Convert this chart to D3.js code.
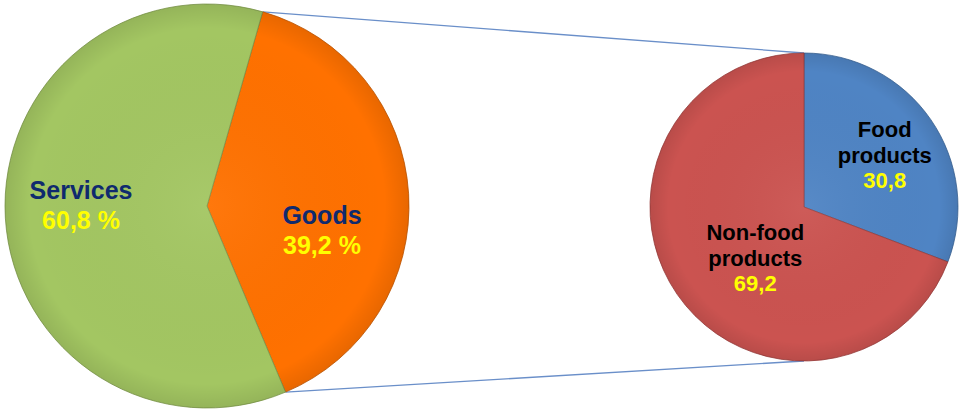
<!DOCTYPE html>
<html>
<head>
<meta charset="utf-8">
<script src="https://cdn.jsdelivr.net/npm/d3@7"></script>
<style>
  html, body { margin: 0; padding: 0; background: #fff; }
  svg { display: block; }
</style>
</head>
<body>
<script>
// Pie of pie: consumer spending split, goods broken down further

const mainNames = ["Goods", "Services"];
const mainValues = [39.2, 60.8];
const mainValueLabels = ["39,2 %", "60,8 %"];

const subNames = ["Food products", "Non-food products"];
const subValues = [30.8, 69.2];
const subValueLabels = ["30,8", "69,2"];

const width = 960;
const height = 410;

const colors = {
  "Goods": "#ff7100",
  "Services": "#a3c662",
  "Food products": "#4f84c4",
  "Non-food products": "#cb5350"
};

// text lines per slice (the sub pie wraps its names)
const nameLines = {
  "Goods": ["Goods"],
  "Services": ["Services"],
  "Food products": ["Food", "products"],
  "Non-food products": ["Non-food", "products"]
};

// small nudges so the labels sit where the original put them
const labelNudge = {
  "Goods": [-6, 32],
  "Services": [-5, -8],
  "Food products": [11, -4],
  "Non-food products": [21, 3]
};

const svg = d3.select("body").append("svg")
  .attr("width", width)
  .attr("height", height)
  .style("font-family", "'Liberation Sans', Arial, sans-serif");

const defs = svg.append("defs");
const rim = defs.append("radialGradient").attr("id", "rim");
rim.append("stop").attr("offset", "0%").attr("stop-color", "#fff").attr("stop-opacity", 0.05);
rim.append("stop").attr("offset", "88%").attr("stop-color", "#000").attr("stop-opacity", 0);
rim.append("stop").attr("offset", "100%").attr("stop-color", "#000").attr("stop-opacity", 0.09);

const main = { cx: 207, cy: 206, r: 202 };
const sub = { cx: 804, cy: 207, r: 154 };

const goodsStart = 16 * Math.PI / 180;

const mainPie = d3.pie().sort(null)
  .startAngle(goodsStart)
  .endAngle(goodsStart + 2 * Math.PI)
  .value(d => d.value);

const subPie = d3.pie().sort(null).value(d => d.value);

const mainArcs = mainPie(mainNames.map((n, i) => ({ name: n, value: mainValues[i], label: mainValueLabels[i] })));
const subArcs = subPie(subNames.map((n, i) => ({ name: n, value: subValues[i], label: subValueLabels[i] })));

// connector lines from the goods slice edges to the sub pie
const pt = (c, a, r) => [c.cx + r * Math.sin(a), c.cy - r * Math.cos(a)];
const goodsArc = mainArcs[0];
const connectors = [
  [pt(main, goodsArc.startAngle, main.r), [sub.cx, sub.cy - sub.r]],
  [pt(main, goodsArc.endAngle, main.r), [sub.cx, sub.cy + sub.r]]
];
svg.append("g").selectAll("line").data(connectors).join("line")
  .attr("x1", d => d[0][0]).attr("y1", d => d[0][1])
  .attr("x2", d => d[1][0]).attr("y2", d => d[1][1])
  .attr("stroke", "#6a8fc9")
  .attr("stroke-width", 1.3);

function drawPie(c, arcs, labelFrac, nameColor, lineGap) {
  const arc = d3.arc().innerRadius(0).outerRadius(c.r);
  const labelArc = d3.arc().innerRadius(c.r * labelFrac).outerRadius(c.r * labelFrac);
  const g = svg.append("g").attr("transform", `translate(${c.cx},${c.cy})`);

  g.selectAll("path.slice").data(arcs).join("path")
    .attr("class", "slice")
    .attr("d", arc)
    .attr("fill", d => colors[d.data.name])
    .attr("stroke", d => d3.color(colors[d.data.name]).darker(0.8))
    .attr("stroke-width", 0.8);

  g.append("circle")
    .attr("r", c.r)
    .attr("fill", "url(#rim)")
    .style("pointer-events", "none");

  arcs.forEach(d => {
    const [x, y] = labelArc.centroid(d);
    const [nx, ny] = labelNudge[d.data.name];
    const lines = nameLines[d.data.name];
    const fs = c.r > 180 ? 25 : 22;
    const total = lines.length + 1;
    const t = g.append("text")
      .attr("text-anchor", "middle")
      .attr("font-weight", "bold")
      .attr("font-size", fs);
    lines.concat([d.data.label]).forEach((line, i) => {
      t.append("tspan")
        .attr("x", x + nx)
        .attr("y", y + ny + (i - (total - 1) / 2) * lineGap + fs * 0.35)
        .attr("fill", i < lines.length ? nameColor : "#ffff00")
        .text(line);
    });
  });
}

drawPie(main, mainArcs, 0.6, "#0f2a6e", 30);
drawPie(sub, subArcs, 0.55, "#000", 25.5);
</script>
</body>
</html>
